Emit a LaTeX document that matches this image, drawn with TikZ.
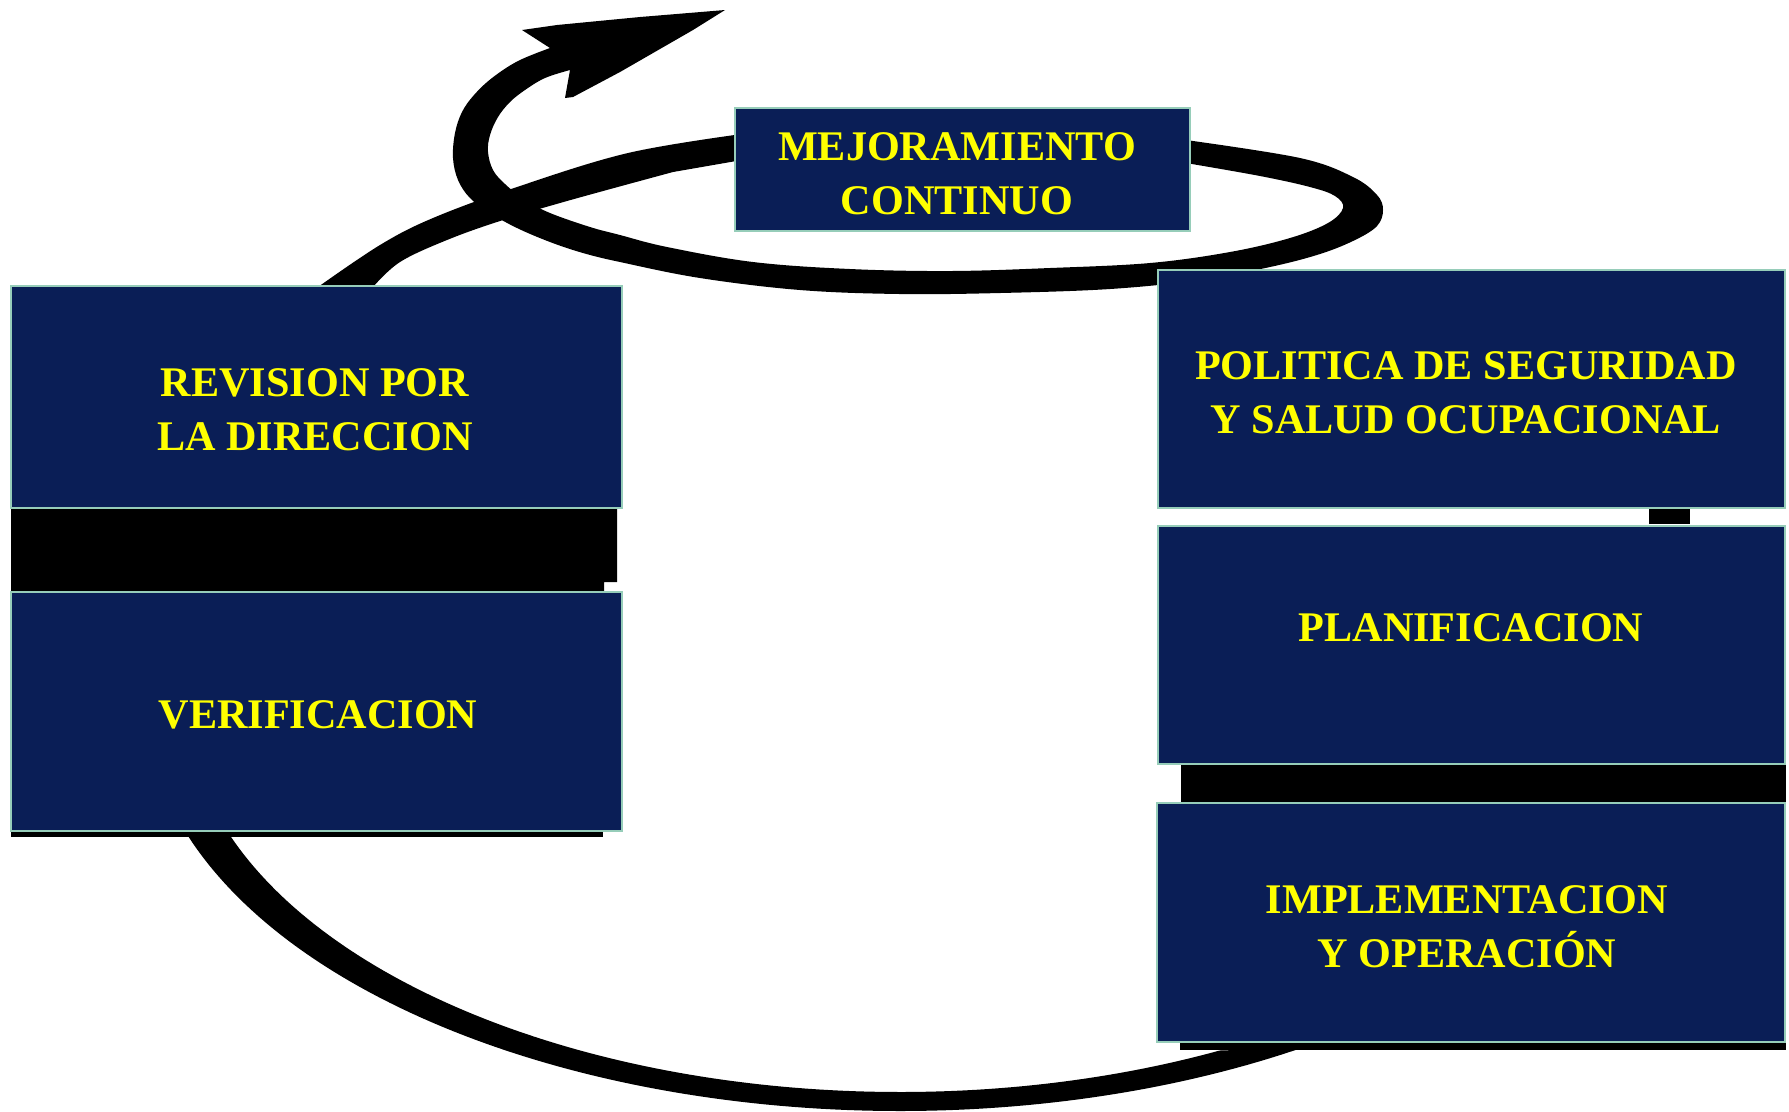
\documentclass[tikz,border=0pt]{standalone}
\usepackage{fontspec}
\setmainfont{Liberation Serif}
\usetikzlibrary{fit}
\definecolor{navy}{RGB}{10,30,86}
\definecolor{boxline}{RGB}{150,205,185}
\definecolor{txtyel}{RGB}{255,255,0}
\begin{document}
\begin{tikzpicture}[x=0.01cm,y=-0.01cm,
  ribbon/.style={fill=black},
  box/.style={draw=boxline, fill=navy, line width=0.4pt, inner sep=0pt},
  lbl/.style={text=txtyel, font=\fontsize{12}{15.4}\selectfont\bfseries, align=center, inner sep=0pt}]
\useasboundingbox (0,0) rectangle (1789,1111);

% ---- ribbon: bottom arc (between two elliptic arcs)
\fill[ribbon] (188,832)
  -- plot[domain=160.7:57.5,samples=100] ({900+754.5*cos(\x)},{700+411*sin(\x)})
  -- (1300,1048)
  -- plot[domain=63.4:159.7,samples=100] ({900+714*cos(\x)},{700+392*sin(\x)})
  -- (231,832) -- cycle;

% ---- ribbon: band rising from the left boxes to the top box
\fill[ribbon] plot[smooth,tension=0.6] coordinates {(318,287) (380,245) (433,218) (517,187) (628,153) (742,134)}
  -- (742,160) --
  plot[smooth,tension=0.6] coordinates {(673,172) (567,201) (500,221) (447,240) (400,262) (373,287)} -- cycle;

% ---- ribbon: loop, crossing and arrow
\fill[ribbon] plot[smooth,tension=0.6] coordinates {(1186,140) (1300,158) (1353,177) (1377,195) (1383,210) (1377,226) (1355,240) (1320,254) (1270,267) (1200,280) (1110,289) (1000,293) (900,294) (800,290) (700,278) (620,262) (583,253) (550,242) (517,228) (490,213) (470,198) (458,180) (453,158) (455,133) (462,112) (474,95) (492,78) (518,61) (550,48)}
  -- (522,30) -- (557,25) -- (640,17) -- (725,10) -- (693,30) -- (620,72) -- (573,97) -- (565,98) -- (570,70) --
  plot[smooth,tension=0.6] coordinates {(570,70) (545,78) (525,90) (510,102) (498,117) (490,135) (488,152) (493,170) (505,184) (525,200) (550,213) (590,227) (620,235) (667,247) (753,262) (850,269) (950,271) (1050,268) (1150,263) (1230,252) (1290,238) (1328,223) (1343,208) (1335,196) (1310,187) (1260,176) (1186,163)} -- cycle;

% ---- ribbon parts seen between the boxes
\fill[ribbon] (11,508) -- (617,508) -- (617,582) -- (604,582) -- (604,592) -- (11,592) -- cycle;
\fill[ribbon] (11,831) rectangle (603,837);
\fill[ribbon] (1649,508) rectangle (1690,524);
\fill[ribbon] (1181,764) rectangle (1786,803);
\fill[ribbon] (1180,1042) rectangle (1786,1050);

% ---- boxes
\node[box, fit={(735,108) (1190,231)}] (mej) {};
\node[box, fit={(11,286) (622,508)}] (rev) {};
\node[box, fit={(11,592) (622,831)}] (ver) {};
\node[box, fit={(1158,270) (1785,508)}] (pol) {};
\node[box, fit={(1158,526) (1785,764)}] (plan) {};
\node[box, fit={(1157,803) (1785,1042)}] (impl) {};

% ---- labels
\node[lbl] (mejt) at (957,174) {MEJORAMIENTO\\CONTINUO};
\node[lbl] (revt) at (315,410) {REVISION POR\\LA DIRECCION};
\node[lbl] (vert) at (318,715) {VERIFICACION};
\node[lbl] (polt) at (1466,393) {POLITICA DE SEGURIDAD\\Y SALUD OCUPACIONAL};
\node[lbl] (plant) at (1471,628) {PLANIFICACION};
\node[lbl] (implt) at (1467,927) {IMPLEMENTACION\\Y OPERACIÓN};
\end{tikzpicture}
\end{document}
